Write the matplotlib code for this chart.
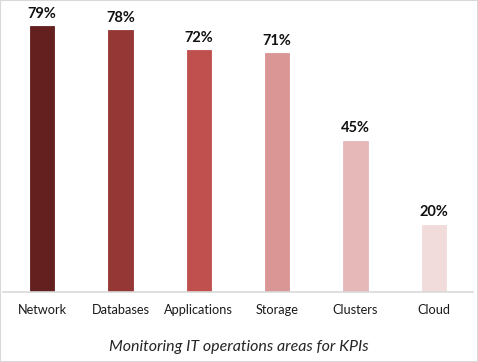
import matplotlib
matplotlib.use("Agg")
import matplotlib.pyplot as plt
from matplotlib.patches import Rectangle

categories = ["Network", "Databases", "Applications", "Storage", "Clusters", "Cloud"]
values = [79, 78, 72, 71, 45, 20]
colors = ["#63201f", "#953735", "#c0504d", "#d99694", "#e6b9b8", "#f2dcdb"]
title = "Monitoring IT operations areas for KPIs"

FONT = ["Lato", "DejaVu Sans"]
W, H = 478, 362
fig = plt.figure(figsize=(W / 100, H / 100), dpi=100)
base = 291.7
ax = fig.add_axes([3 / W, (H - base) / H, 470 / W, base / H])
x = list(range(len(categories)))
bars = ax.bar(x, values, width=0.31, color=colors, edgecolor=colors, linewidth=0.6, zorder=2)
ax.set_xlim(-0.5, len(categories) - 0.5)
ax.set_ylim(0, base / 3.36)
for xi, v in zip(x, values):
    ax.annotate(f"{v}%", (xi, v), xytext=(0, 5), textcoords="offset pixels",
                ha="center", va="bottom", fontsize=10.5, fontweight="bold",
                family=FONT, color="#111111")
for s in ["top", "right", "left"]:
    ax.spines[s].set_visible(False)
ax.spines["bottom"].set_color("#d9d9d9")
ax.spines["bottom"].set_linewidth(1.2)
ax.set_yticks([])
ax.set_xticks(x)
ax.set_xticklabels(categories, fontsize=9.2, family=FONT, color="#1a1a1a")
ax.tick_params(axis="x", length=0, pad=9)
fig.text(0.5, 1 - 347 / H, title, ha="center", va="center", fontsize=11.5, style="italic",
         family=FONT, color="#262626")
fig.patches.append(Rectangle((0, 0), 1, 1, transform=fig.transFigure, fill=False,
                             edgecolor="#d9d9d9", linewidth=1.5))
fig.savefig("out.png", dpi=100)
